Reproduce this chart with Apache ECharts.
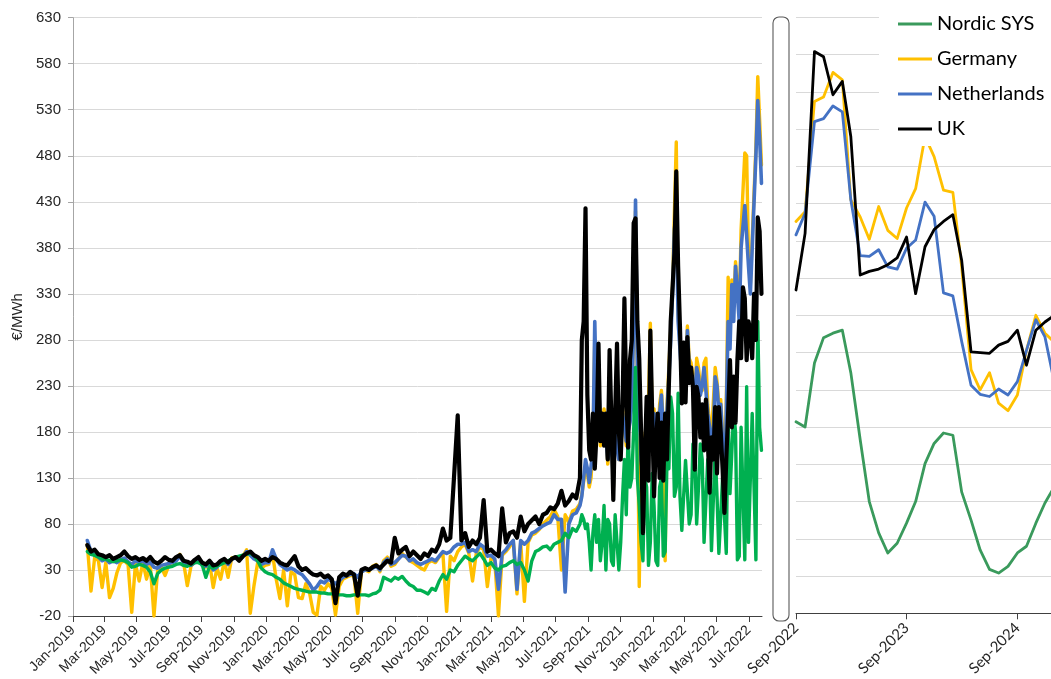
<!DOCTYPE html>
<html>
<head>
<meta charset="utf-8">
<script src="https://cdn.jsdelivr.net/npm/echarts@6/dist/echarts.min.js"></script>
<style>
  html, body { margin: 0; padding: 0; background: #ffffff; }
  #chart { width: 1051px; height: 679px; }
</style>
</head>
<body>
<div id="chart"></div>
<script>
// Series names (legend order)
const seriesNames = ['Nordic SYS', 'Germany', 'Netherlands', 'UK'];

// Spot prices (€/MWh).
// Part A: weekly samples from 2019-01-28; part B: twice-weekly samples from 2021-08-16.
const spotStartA = '2019-01-28';
const spotStepA = 7;
const spotStartB = '2021-08-16';
const spotStepB = 3.5;

const ukSpotA = [
  57, 50, 52, 47, 46, 44, 46, 42, 44, 46,
  50, 45, 42, 44, 41, 43, 40, 44, 39, 37,
  40, 44, 41, 40, 44, 46, 40, 39, 37, 41,
  44, 38, 36, 40, 35, 36, 40, 42, 38, 42,
  44, 40, 45, 48, 50, 46, 44, 40, 42, 40,
  44, 42, 38, 36, 35, 40, 45, 34, 30, 32,
  28, 25, 24, 26, 22, 24, 20, -6, 22, 26,
  24, 28, 25, 2, 30, 32, 30, 33, 35, 32,
  36, 40, 38, 65, 48, 52, 55, 45, 50, 46,
  42, 48, 45, 52, 50, 58, 75, 62, 65, 131,
  198, 62, 70, 55, 62, 58, 65, 106, 50, 52,
  48, 45, 97, 60, 70, 72, 65, 88, 72, 80,
  84, 88, 80, 90, 92, 98, 96, 102, 116, 100,
  105, 112, 108
];
const ukSpotB = [
  130, 280, 300, 423, 220, 160, 150, 200, 140, 180,
  276, 170, 200, 165, 200, 150, 269, 190, 106, 200,
  276, 180, 150, 210, 325, 220, 163, 258, 280, 407,
  412, 300, 260, 180, 70, 150, 218, 127, 290, 200,
  110, 170, 200, 130, 190, 127, 200, 150, 230, 300,
  300, 374, 463, 360, 294, 211, 277, 212, 283, 233,
  250, 229, 139, 229, 218, 174, 210, 160, 215, 174,
  114, 174, 150, 207, 135, 207, 180, 140, 92, 150,
  200, 258, 185, 240, 190, 258, 300, 260, 337, 325,
  258, 300, 290, 260, 330, 280, 413, 398, 330
];

const nlSpotA = [
  62, 50, 46, 44, 40, 42, 38, 40, 38, 41,
  43, 39, 36, 40, 38, 40, 36, 38, 33, 32,
  35, 36, 37, 38, 40, 45, 38, 36, 35, 38,
  42, 35, 34, 38, 30, 33, 38, 40, 36, 42,
  43, 41, 44, 50, 46, 42, 40, 36, 38, 38,
  52, 42, 36, 33, 30, 32, 30, 27, 25, 20,
  15, 8, 12, 18, 16, 20, 18, 15, 18, 22,
  24, 25, 26, 22, 28, 30, 30, 32, 34, 30,
  38, 42, 36, 38, 42, 46, 45, 40, 42, 38,
  36, 38, 40, 42, 40, 45, 50, 48, 50, 55,
  58, 58, 60, 50, 52, 50, 58, 55, 45, 46,
  42, 9, 48, 52, 58, 62, 9, 62, 58, 62,
  70, 72, 75, 78, 80, 82, 90, 85, 85, 6,
  80, 90, 92
];
const nlSpotB = [
  100, 110, 130, 150, 140, 125, 125, 160, 300, 200,
  250, 170, 170, 200, 200, 150, 160, 190, 120, 180,
  180, 150, 150, 200, 200, 170, 170, 190, 210, 300,
  432, 250, 200, 150, 130, 170, 180, 200, 230, 180,
  200, 150, 160, 200, 220, 180, 180, 203, 240, 280,
  330, 400, 420, 300, 270, 240, 250, 230, 290, 250,
  250, 230, 220, 250, 240, 220, 230, 250, 250, 200,
  200, 170, 180, 240, 230, 200, 210, 170, 98, 200,
  300, 270, 340, 300, 360, 330, 300, 380, 380, 426,
  426, 360, 330, 380, 430, 480, 540, 500, 450
];

const deSpotA = [
  58, 7, 44, 40, 11, 38, 0, 10, 27, 38,
  40, 36, -16, 37, 18, 38, 20, 36, -20, 30,
  33, 24, 35, 38, 41, 47, 38, 13, 34, 40,
  44, 36, 33, 38, 11, 32, 20, 40, 22, 43,
  44, 42, 45, 52, -17, 13, 38, 32, 35, 36,
  48, 20, -1, 30, -9, 28, 25, 0, -1, 15,
  5, -16, -19, 12, 8, 15, 10, -19, 12, 20,
  22, 24, 24, -17, 28, 30, 28, 34, 36, 28,
  40, 44, 34, 36, 42, 48, 44, 40, 38, 35,
  32, 30, 38, 40, 38, 44, 48, -15, 45, 40,
  50, 55, 58, 48, 18, 48, 55, 52, 12, 44,
  40, -20, 46, 50, 55, 62, 4, 60, -4, 60,
  68, 70, 74, 80, 84, 88, 96, 88, 30, 90,
  82, 94, 96
];
const deSpotB = [
  102, 112, 110, 140, 135, 120, 130, 165, 280, 200,
  240, 165, 165, 205, 190, 145, 165, 195, 115, 185,
  175, 150, 150, 205, 205, 165, 165, 195, 215, 300,
  420, 240, 12, 150, 120, 175, 190, 210, 298, 190,
  205, 150, 160, 210, 225, 190, 40, 210, 250, 290,
  340, 420, 495, 310, 280, 250, 255, 240, 295, 260,
  255, 240, 215, 260, 250, 230, 225, 255, 260, 210,
  190, 175, 175, 250, 235, 210, 215, 180, 90, 210,
  348, 290, 345, 320, 365, 340, 310, 400, 400, 483,
  480, 370, 340, 390, 440, 490, 566, 520, 470
];

const noSpotA = [
  50, 47, 46, 44, 42, 42, 40, 39, 40, 41,
  40, 38, 33, 34, 36, 35, 33, 28, 15, 26,
  30, 32, 33, 34, 36, 37, 35, 34, 36, 38,
  38, 36, 22, 34, 32, 34, 36, 38, 40, 42,
  44, 45, 46, 47, 48, 46, 40, 32, 28, 26,
  25, 22, 20, 16, 14, 12, 10, 9, 8, 7,
  6, 6, 6, 5, 5, 4, 4, 4, 3, 3,
  2, 2, 3, 3, 3, 3, 2, 4, 5, 8,
  22, 20, 18, 22, 20, 23, 18, 14, 12, 8,
  8, 6, 4, 10, 8, 18, 25, 20, 30, 28,
  35, 40, 45, 42, 40, 44, 48, 42, 35, 38,
  32, 30, 34, 35, 38, 40, 36, 38, 30, 18,
  40, 50, 52, 55, 56, 52, 58, 60, 62, 70,
  65, 75, 72
];
const noSpotB = [
  80, 90, 85, 75, 80, 60, 30, 70, 90, 60,
  85, 40, 60, 100, 30, 85, 80, 40, 35, 90,
  90, 30, 60, 110, 150, 90, 180, 120, 130, 182,
  250, 130, 100, 60, 40, 130, 120, 35, 60, 135,
  100, 40, 35, 120, 130, 45, 50, 150, 140, 218,
  200, 110, 120, 222, 110, 73, 73, 149, 150, 80,
  90, 167, 160, 80, 120, 167, 150, 60, 60, 150,
  140, 51, 51, 160, 110, 48, 50, 130, 130, 48,
  200, 113, 113, 203, 180, 41, 45, 185, 185, 41,
  229, 60, 60, 200, 120, 41, 300, 185, 160
];

// Forward curves, monthly from Sep-2022
const fwdStart = '2022-09';
const noFwd = [257, 250, 336, 370, 376, 380, 323, 233, 150, 108, 81, 94, 121, 150, 201, 228, 242, 239, 163, 125, 85, 59, 54, 63, 81, 90, 121, 148, 170];
const deFwd = [526, 539, 687, 693, 726, 716, 555, 532, 502, 546, 514, 503, 544, 570, 640, 613, 568, 565, 465, 327, 300, 323, 282, 272, 293, 353, 400, 376, 364];
const nlFwd = [508, 537, 660, 664, 681, 673, 555, 480, 479, 488, 465, 462, 490, 501, 552, 533, 430, 426, 365, 306, 294, 291, 301, 293, 311, 353, 394, 371, 310];
const ukFwd = [434, 510, 754, 747, 696, 714, 640, 454, 459, 462, 468, 477, 505, 429, 492, 515, 526, 535, 474, 351, 350, 349, 360, 365, 380, 333, 380, 391, 400];

// Axis tick labels
const spotTickLabels = [
  'Jan-2019', 'Mar-2019', 'May-2019', 'Jul-2019', 'Sep-2019', 'Nov-2019',
  'Jan-2020', 'Mar-2020', 'May-2020', 'Jul-2020', 'Sep-2020', 'Nov-2020',
  'Jan-2021', 'Mar-2021', 'May-2021', 'Jul-2021', 'Sep-2021', 'Nov-2021',
  'Jan-2022', 'Mar-2022', 'May-2022', 'Jul-2022'
];
const fwdTickLabels = ['Sep-2022', 'Sep-2023', 'Sep-2024'];

const MONTHS = ['Jan', 'Feb', 'Mar', 'Apr', 'May', 'Jun', 'Jul', 'Aug', 'Sep', 'Oct', 'Nov', 'Dec'];
const DAY = 86400000;

function parseTickLabel(s) {
  const parts = s.split('-');
  return Date.UTC(+parts[1], MONTHS.indexOf(parts[0]), 1);
}
function monthLabel(v) {
  const d = new Date(v);
  return MONTHS[d.getUTCMonth()] + '-' + d.getUTCFullYear();
}
function isoToUTC(s) {
  const p = s.split('-').map(Number);
  return Date.UTC(p[0], p[1] - 1, p[2] || 1);
}

// pair each sample with its date
function sampled(values, start, stepDays) {
  const t0 = isoToUTC(start);
  return values.map((v, i) => [t0 + i * stepDays * DAY, v]);
}
function spotData(partA, partB) {
  return sampled(partA, spotStartA, spotStepA).concat(sampled(partB, spotStartB, spotStepB));
}
const fwdParts = fwdStart.split('-').map(Number);
function monthly(values) {
  return values.map((v, i) => [Date.UTC(fwdParts[0], fwdParts[1] - 1 + i, 1), v]);
}

const COLORS = {
  nordicSpot: '#00b050',
  nordicFwd: '#3a9a5c',
  germany: '#ffc000',
  netherlands: '#4472c4',
  uk: '#000000'
};

function lineSeries(name, data, color, width, axisIdx) {
  return {
    name: name,
    type: 'line',
    xAxisIndex: axisIdx,
    yAxisIndex: axisIdx,
    data: data,
    symbol: 'none',
    showSymbol: false,
    clip: true,
    silent: true,
    lineStyle: { color: color, width: width, join: 'round', cap: 'round' },
    itemStyle: { color: color }
  };
}

const spotFont = 'Liberation Sans, Arial, sans-serif';
const fwdFont = 'Lato, sans-serif';

const spotTicks = spotTickLabels.map(parseTickLabel);
const fwdTicks = fwdTickLabels.map(parseTickLabel);

const chart = echarts.init(document.getElementById('chart'), null, { renderer: 'canvas' });

chart.setOption({
  animation: false,
  backgroundColor: '#ffffff',
  grid: [
    { left: 73, right: 289, top: 17.7, bottom: 63, outerBoundsMode: 'none' },
    { left: 796, right: 0, top: 17.3, bottom: 65.7, outerBoundsMode: 'none' }
  ],
  legend: {
    data: seriesNames,
    orient: 'vertical',
    left: 879,
    top: 7,
    padding: [7, 10, 7, 19],
    itemWidth: 34,
    itemHeight: 3,
    itemGap: 15,
    icon: 'rect',
    backgroundColor: '#ffffff',
    selectedMode: false,
    textStyle: { fontFamily: fwdFont, fontSize: 20, lineHeight: 20, color: '#000000' }
  },
  xAxis: [
    {
      type: 'value',
      gridIndex: 0,
      min: Date.UTC(2019, 0, 1),
      max: Date.UTC(2022, 6, 26),
      axisLine: { show: true, onZero: false, lineStyle: { color: '#404040', width: 1 } },
      axisTick: { show: true, length: 6, customValues: spotTicks, lineStyle: { color: '#404040' } },
      axisLabel: {
        customValues: spotTicks,
        formatter: monthLabel,
        rotate: 45,
        margin: 12,
        hideOverlap: false,
        fontFamily: spotFont,
        fontSize: 14,
        color: '#262626'
      },
      splitLine: { show: false }
    },
    {
      type: 'value',
      gridIndex: 1,
      min: Date.UTC(2022, 8, 1),
      max: Date.UTC(2024, 11, 21),
      axisLine: { show: true, onZero: false, lineStyle: { color: '#404040', width: 1 } },
      axisTick: { show: true, length: 6, customValues: fwdTicks, lineStyle: { color: '#404040' } },
      axisLabel: {
        customValues: fwdTicks,
        formatter: monthLabel,
        rotate: 45,
        margin: 12,
        hideOverlap: false,
        fontFamily: fwdFont,
        fontSize: 15,
        color: '#262626'
      },
      splitLine: { show: false }
    }
  ],
  yAxis: [
    {
      type: 'value',
      gridIndex: 0,
      min: -20,
      max: 630,
      interval: 50,
      name: '€/MWh',
      nameLocation: 'middle',
      nameGap: 47,
      nameTextStyle: { fontFamily: spotFont, fontSize: 15, color: '#262626' },
      axisLine: { show: true, lineStyle: { color: '#a6a6a6', width: 1 } },
      axisTick: { show: true, length: 5, lineStyle: { color: '#a6a6a6' } },
      axisLabel: { margin: 12, fontFamily: spotFont, fontSize: 15, color: '#262626' },
      splitLine: { show: true, lineStyle: { color: '#d9d9d9', width: 1 } }
    },
    {
      type: 'value',
      gridIndex: 1,
      min: 0,
      max: 800,
      interval: 50,
      axisLine: { show: false },
      axisTick: { show: false },
      axisLabel: { show: false },
      splitLine: { show: true, lineStyle: { color: '#d9d9d9', width: 1 } }
    }
  ],
  series: [
    // forward curves (listed first so the legend takes these colours)
    lineSeries('Nordic SYS', monthly(noFwd), COLORS.nordicFwd, 2.8, 1),
    lineSeries('Germany', monthly(deFwd), COLORS.germany, 2.8, 1),
    lineSeries('Netherlands', monthly(nlFwd), COLORS.netherlands, 2.8, 1),
    lineSeries('UK', monthly(ukFwd), COLORS.uk, 2.8, 1),
    // spot prices
    lineSeries('Germany', spotData(deSpotA, deSpotB), COLORS.germany, 3.4, 0),
    lineSeries('Netherlands', spotData(nlSpotA, nlSpotB), COLORS.netherlands, 3.6, 0),
    lineSeries('Nordic SYS', spotData(noSpotA, noSpotB), COLORS.nordicSpot, 3.4, 0),
    lineSeries('UK', spotData(ukSpotA, ukSpotB), COLORS.uk, 4.2, 0)
  ],
  graphic: [
    {
      type: 'rect',
      silent: true,
      z: 10,
      shape: { x: 773, y: 17, width: 16, height: 604, r: 6 },
      style: { fill: '#ffffff', stroke: '#595959', lineWidth: 1.1 }
    }
  ]
});
</script>
</body>
</html>
